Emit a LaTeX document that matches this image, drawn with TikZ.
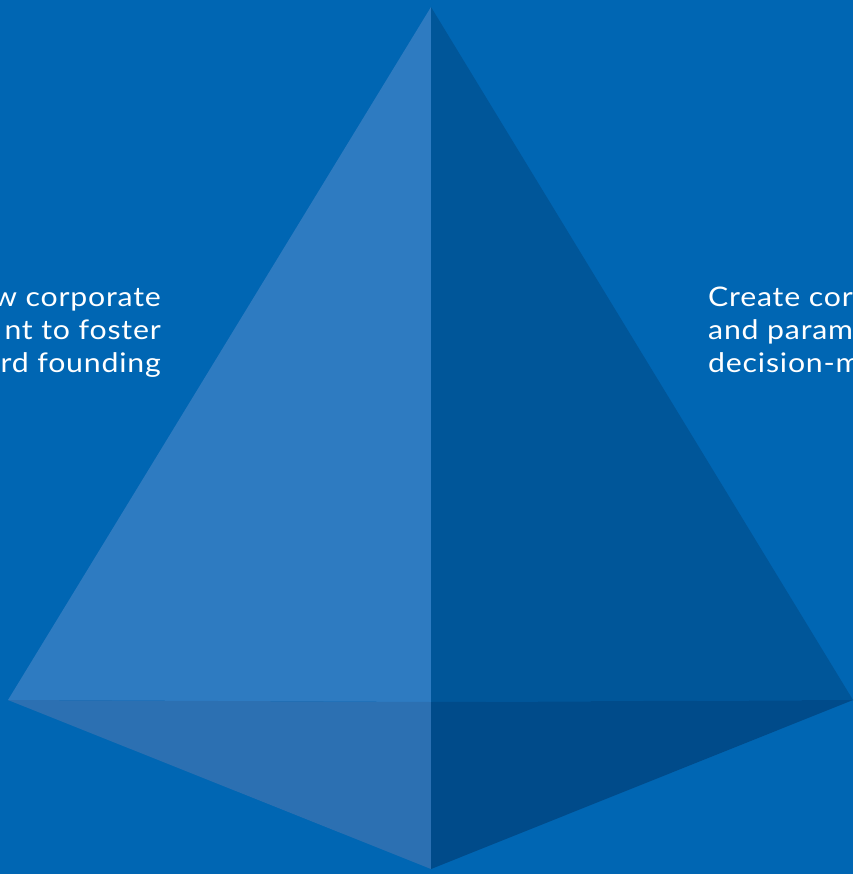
\documentclass[tikz,border=0pt]{standalone}
\usepackage{fontspec}
\setmainfont{Lato}[FakeStretch=1.12,LetterSpace=3]
\begin{document}
\begin{tikzpicture}[x=1pt,y=-1pt,
  label text/.style={text=white,inner sep=0pt,font=\fontsize{27}{33}\selectfont}]
\definecolor{bgblue}{HTML}{0066B3}
\definecolor{faceL}{HTML}{2E7BC1}
\definecolor{faceR}{HTML}{005699}
\definecolor{baseL}{HTML}{2C70B2}
\definecolor{baseR}{HTML}{004B8A}
\useasboundingbox (0,0) rectangle (853,874);
\clip (0,0) rectangle (853,874);
\fill[bgblue] (0,0) rectangle (853,874);
% pyramid corners
\coordinate (apex) at (431,7);
\coordinate (lft) at (8,700);
\coordinate (rgt) at (853,700);
\coordinate (mid) at (431,702);
\coordinate (bot) at (431,869);
% faces
\fill[faceL] (apex) -- (lft) -- (mid) -- cycle;
\fill[faceR] (apex) -- (mid) -- (rgt) -- cycle;
\fill[baseL] (lft) -- (mid) -- (bot) -- cycle;
\fill[baseR] (mid) -- (rgt) -- (bot) -- cycle;
% side captions
\node[label text,anchor=base east] (l1) at (161,306) {w corporate};
\node[label text,anchor=base east] (l2) at (161,339) {nt to foster};
\node[label text,anchor=base east] (l3) at (161,372) {rd founding};
\node[label text,anchor=base west] (r1) at (708,306) {Create cor};
\node[label text,anchor=base west] (r2) at (708,339) {and param};
\node[label text,anchor=base west] (r3) at (708,372) {decision-m};
\end{tikzpicture}
\end{document}
